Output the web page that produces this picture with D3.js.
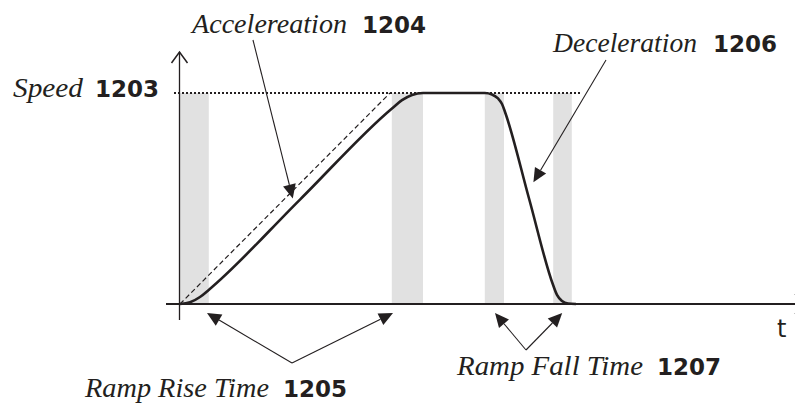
<!DOCTYPE html>
<html>
<head>
<meta charset="utf-8">
<script src="https://cdn.jsdelivr.net/npm/d3@7"></script>
<style>
    html, body { margin: 0; padding: 0; background: #ffffff; }
    svg { display: block; }
</style>
</head>
<body>
<svg id="chart" width="795" height="403"></svg>
<script>
// speed profile (time in arbitrary units, speed as fraction of target)
const profileTime  = [0, 1.67, 3.33, 4.83, 20, 35.33, 37, 38.67, 40.5,
                      50.83, 52, 53, 53.67, 54.17, 58.17, 62.17, 62.83, 63.67, 64.67, 66];
const profileSpeed = [0, 0.008, 0.033, 0.068, 0.495, 0.927, 0.966, 0.991, 1,
                      1, 0.993, 0.974, 0.948, 0.91, 0.5, 0.091, 0.043, 0.014, 0.002, 0];

// shaded ramp windows (start, end)
const bandStart = [0, 35.3, 50.8, 62.2];
const bandEnd   = [4.8, 40.5, 54, 65.3];

// ideal linear ramp (dashed)
const idealTime  = [0, 35];
const idealSpeed = [0, 1];

// target speed level (dotted)
const targetSpeed = 1;
const targetSpan = [-1, 66.7];

// label texts
const labelNames   = ["Speed", "Accelereation", "Deceleration", "Ramp Rise Time", "Ramp Fall Time"];
const labelNumbers = ["1203", "1204", "1206", "1205", "1207"];
const axisLabel = "t";

class RampChart {
    constructor(selector) {
        this.svg = d3.select(selector);
        this.ink = "#231f20";
        this.x = d3.scaleLinear().domain([0, 100]).range([180, 780]);
        this.y = d3.scaleLinear().domain([0, 1]).range([304, 93]);
    }

    arrowHead(g, from, tip, len, half) {
        const dx = tip[0] - from[0], dy = tip[1] - from[1];
        const d = Math.hypot(dx, dy);
        const ux = dx / d, uy = dy / d;
        const bx = tip[0] - ux * len, by = tip[1] - uy * len;
        g.append("path")
            .attr("d", `M${tip[0]},${tip[1]}L${bx - uy * half},${by + ux * half}L${bx + uy * half},${by - ux * half}Z`)
            .attr("fill", this.ink);
        return [bx, by];
    }

    arrow(g, from, tip) {
        const base = this.arrowHead(g, from, tip, 14, 6.5);
        g.append("line")
            .attr("x1", from[0]).attr("y1", from[1])
            .attr("x2", base[0]).attr("y2", base[1])
            .attr("stroke", this.ink)
            .attr("stroke-width", 1.1);
    }

    label(i, xName, xNum, baseline, nameWidth) {
        this.svg.append("text")
            .attr("x", xName).attr("y", baseline)
            .attr("textLength", nameWidth)
            .attr("lengthAdjust", "spacingAndGlyphs")
            .attr("font-family", "Liberation Serif, Times New Roman, Times, serif")
            .attr("font-style", "italic")
            .attr("font-size", 27)
            .attr("fill", this.ink)
            .text(labelNames[i]);
        this.svg.append("text")
            .attr("x", xNum).attr("y", baseline)
            .attr("font-family", "DejaVu Sans, Verdana, sans-serif")
            .attr("font-weight", 700)
            .attr("font-size", 23)
            .attr("fill", this.ink)
            .text(labelNumbers[i]);
    }

    render() {
        const x = this.x, y = this.y, svg = this.svg;
        const y0 = y(0);

        // shaded ramp windows
        svg.append("g").selectAll("rect")
            .data(d3.range(bandStart.length))
            .enter()
            .append("rect")
            .attr("x", i => x(bandStart[i]))
            .attr("width", i => x(bandEnd[i]) - x(bandStart[i]))
            .attr("y", y(targetSpeed))
            .attr("height", y0 - y(targetSpeed))
            .attr("fill", "#e1e1e1");

        // target speed dotted line
        svg.append("line")
            .attr("x1", x(targetSpan[0])).attr("x2", x(targetSpan[1]))
            .attr("y1", y(targetSpeed)).attr("y2", y(targetSpeed))
            .attr("stroke", this.ink)
            .attr("stroke-width", 2)
            .attr("stroke-dasharray", "2,2");

        // ideal ramp dashed line
        svg.append("path")
            .datum(d3.range(idealTime.length))
            .attr("d", d3.line().x(i => x(idealTime[i])).y(i => y(idealSpeed[i])))
            .attr("fill", "none")
            .attr("stroke", this.ink)
            .attr("stroke-width", 1.2)
            .attr("stroke-dasharray", "5,3");

        // axes
        const axes = svg.append("g")
            .attr("stroke", this.ink)
            .attr("fill", "none");
        axes.append("line")
            .attr("x1", x(0) - 0.5).attr("x2", x(0) - 0.5)
            .attr("y1", 320).attr("y2", 52)
            .attr("stroke-width", 1.3);
        axes.append("path")
            .attr("d", `M${x(0) - 8.5},63L${x(0) - 0.5},52L${x(0) + 7.5},63`)
            .attr("stroke-width", 1.5);
        axes.append("line")
            .attr("x1", 166).attr("x2", 806)
            .attr("y1", y0).attr("y2", y0)
            .attr("stroke-width", 2.2);
        axes.append("path")
            .attr("d", `M795,${y0 - 10}L806,${y0}L795,${y0 + 10}`)
            .attr("stroke-width", 1.5);

        // speed profile
        svg.append("path")
            .datum(d3.range(profileTime.length))
            .attr("d", d3.line()
                .x(i => x(profileTime[i]))
                .y(i => y(profileSpeed[i]))
                .curve(d3.curveMonotoneX))
            .attr("fill", "none")
            .attr("stroke", this.ink)
            .attr("stroke-width", 2.6)
            .attr("stroke-linejoin", "round");

        // callout arrows
        const g = svg.append("g");
        this.arrow(g, [253, 40], [x(18.8), y(0.5)]);
        this.arrow(g, [606, 60], [x(58.9), y(0.577)]);

        const rise = [292, 363];
        this.arrow(g, rise, [x(4.5), y0 + 9]);
        this.arrow(g, rise, [x(35.5), y0 + 9]);

        const fall = [526, 350];
        this.arrow(g, fall, [x(52.5), y0 + 9]);
        this.arrow(g, fall, [x(63.7), y0 + 9]);

        // labels
        this.label(0, 13, 95, 97, 70);
        this.label(1, 192, 362, 33, 155);
        this.label(2, 553, 713, 52, 144);
        this.label(3, 85, 283, 397, 184);
        this.label(4, 457, 657, 375, 186);

        svg.append("text")
            .attr("x", 777).attr("y", 337)
            .attr("font-family", "DejaVu Sans, Verdana, sans-serif")
            .attr("font-size", 24)
            .attr("fill", this.ink)
            .text(axisLabel);
    }
}

new RampChart("#chart").render();
</script>
</body>
</html>
